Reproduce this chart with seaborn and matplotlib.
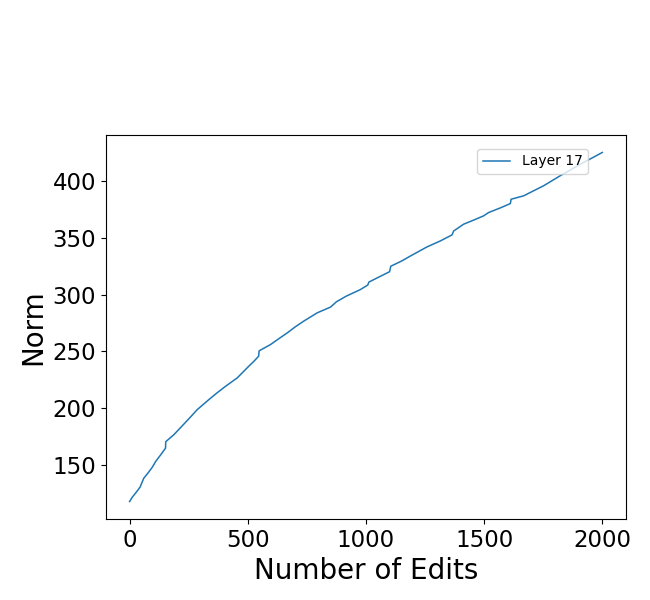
import matplotlib
matplotlib.use("Agg")
import matplotlib.pyplot as plt
import seaborn as sns
import pandas as pd

# (norm vs number of edits)
edits = [0, 11, 30, 44, 60, 80, 96, 110, 130, 152, 153, 187, 216, 250, 286,
         335, 370, 406, 455, 504, 526, 546, 548, 596, 630, 667, 700, 737, 794,
         850, 875, 917, 976, 1008, 1012, 1050, 1100, 1105, 1150, 1188, 1258,
         1315, 1364, 1371, 1413, 1460, 1498, 1519, 1570, 1611, 1614, 1667,
         1752, 1822, 1900, 2000]
norm = [117.8, 121.5, 126.5, 130.4, 138.3, 143.5, 148.0, 153.0, 158.5, 164.8,
        170.5, 176.6, 183.0, 190.5, 198.7, 207.5, 213.5, 219.3, 226.6, 236.9,
        241.3, 245.8, 250.5, 256.0, 261.0, 266.3, 271.5, 276.7, 284.0, 289.0,
        293.7, 298.7, 304.4, 308.5, 311.0, 315.0, 320.2, 325.0, 329.5, 334.0,
        342.0, 347.3, 352.6, 356.0, 362.0, 366.0, 369.4, 372.3, 376.5, 380.2,
        384.0, 387.0, 395.9, 404.7, 414.0, 425.2]
series_label = "Layer 17"

df = pd.DataFrame({"Number of Edits": edits, "Norm": norm})

fig = plt.figure(figsize=(6.5, 6), dpi=100)
ax = fig.add_axes([0.163, 0.135, 0.8, 0.64])

sns.lineplot(data=df, x="Number of Edits", y="Norm", ax=ax,
             color="#1f77b4", linewidth=1.1, label=series_label)

ax.set_xlabel("Number of Edits", fontsize=20)
ax.set_ylabel("Norm", fontsize=20)
ax.tick_params(labelsize=16.5)
ax.set_xticks([0, 500, 1000, 1500, 2000])
ax.set_yticks([150, 200, 250, 300, 350, 400])
ax.legend(loc="upper right", bbox_to_anchor=(0.927, 0.964),
          borderaxespad=0, fontsize=10)

fig.savefig("out.png", dpi=100)
